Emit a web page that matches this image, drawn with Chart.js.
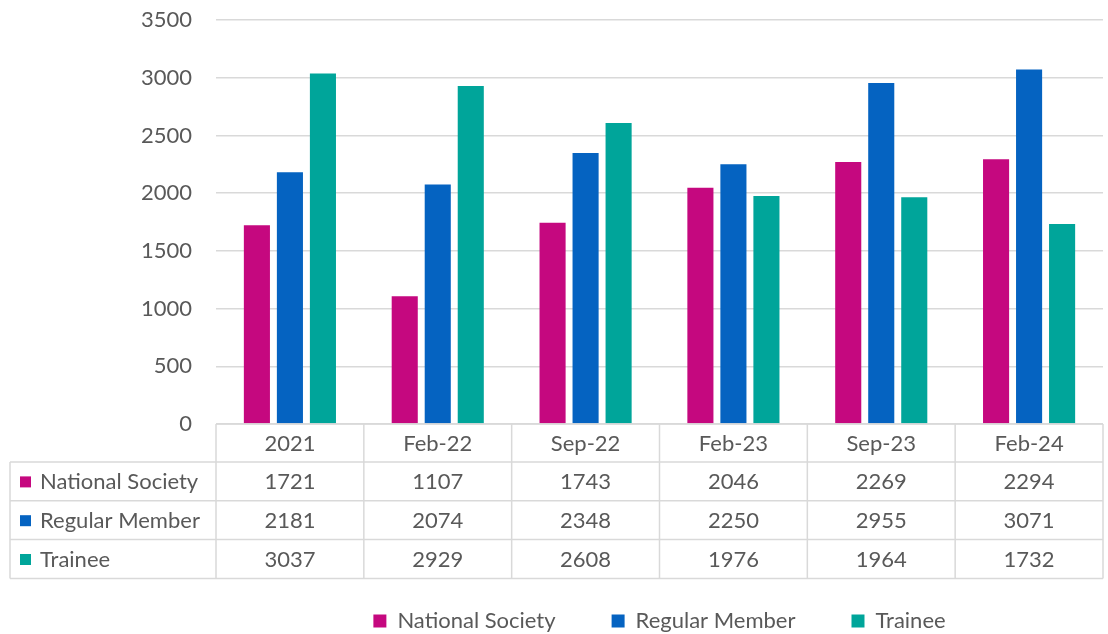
<!DOCTYPE html>
<html>
<head>
<meta charset="utf-8">
<script src="https://cdn.jsdelivr.net/npm/chart.js@4.4.1/dist/chart.umd.min.js"></script>
<style>
  html, body { margin: 0; padding: 0; background: #ffffff; }
  #wrap { width: 1108px; height: 634px; }
</style>
</head>
<body>
<div id="wrap"><canvas id="myChart"></canvas></div>
<script>
// Chart data
const categories = ['2021', 'Feb-22', 'Sep-22', 'Feb-23', 'Sep-23', 'Feb-24'];
const nationalSociety = [1721, 1107, 1743, 2046, 2269, 2294];
const regularMember = [2181, 2074, 2348, 2250, 2955, 3071];
const trainee = [3037, 2929, 2608, 1976, 1964, 1732];
const yTicks = [0, 500, 1000, 1500, 2000, 2500, 3000, 3500];

const textColor = '#595959';
const lineColor = '#d9d9d9';
const fontFamily = 'Lato';
const fontSize = 22;

// draws the data table under the bars
const dataTable = {
    id: 'dataTable',
    afterDraw(chart) {
        const ctx = chart.ctx;
        const x = chart.scales.x;
        const area = chart.chartArea;
        const n = categories.length;
        const colW = (x.right - x.left) / n;
        const top = area.bottom;
        const headH = 38;
        const rowH = 38.8;
        const tableLeft = 10;
        const bottom = top + headH + rowH * 3;

        ctx.save();
        ctx.strokeStyle = lineColor;
        ctx.lineWidth = 1.5;
        ctx.beginPath();
        // top of header
        ctx.moveTo(x.left, top); ctx.lineTo(x.right, top);
        // row lines
        for (let r = 0; r <= 3; r++) {
            const yy = top + headH + r * rowH;
            ctx.moveTo(tableLeft, yy); ctx.lineTo(x.right, yy);
        }
        // vertical lines
        for (let c = 0; c <= n; c++) {
            const xx = x.left + c * colW;
            ctx.moveTo(xx, top); ctx.lineTo(xx, bottom);
        }
        ctx.moveTo(tableLeft, top + headH); ctx.lineTo(tableLeft, bottom);
        ctx.stroke();

        ctx.fillStyle = textColor;
        ctx.font = fontSize + 'px ' + fontFamily;
        ctx.textAlign = 'center';
        ctx.textBaseline = 'middle';
        categories.forEach(function(cat, i) {
            ctx.fillText(cat, x.getPixelForValue(i), top + headH / 2 + 1);
        });

        chart.data.datasets.forEach(function(ds, r) {
            const yy = top + headH + r * rowH + rowH / 2 + 1;
            ctx.fillStyle = ds.backgroundColor;
            ctx.fillRect(tableLeft + 10, yy - 6, 11, 11);
            ctx.fillStyle = textColor;
            ctx.textAlign = 'left';
            ctx.fillText(ds.label, tableLeft + 30, yy);
            ctx.textAlign = 'center';
            ds.data.forEach(function(v, i) {
                ctx.fillText(String(v), x.getPixelForValue(i), yy);
            });
        });
        ctx.restore();
    }
};

const data = {
    labels: categories,
    datasets: [
        { label: 'National Society', data: nationalSociety, backgroundColor: '#c5087f' },
        { label: 'Regular Member', data: regularMember, backgroundColor: '#0563c1' },
        { label: 'Trainee', data: trainee, backgroundColor: '#00a59a' }
    ]
};

const options = {
    responsive: true,
    maintainAspectRatio: false,
    animation: false,
    layout: { padding: { top: 20, right: 5, left: 0, bottom: -8 } },
    datasets: {
        bar: { categoryPercentage: 0.67, barPercentage: 0.79 }
    },
    scales: {
        x: {
            grid: { display: false },
            border: { display: false },
            ticks: { display: false },
            afterFit: function(scale) { scale.height = 130; }
        },
        y: {
            min: 0,
            max: 3500,
            afterBuildTicks: function(scale) {
                scale.ticks = yTicks.map(function(v) { return { value: v }; });
            },
            afterFit: function(scale) {
                scale.width = 216;
                scale.paddingTop = 12;
                scale.paddingBottom = 0;
            },
            grid: { color: lineColor, lineWidth: 1.5, drawTicks: false },
            border: { display: false },
            ticks: {
                padding: 24,
                color: textColor,
                font: { family: fontFamily, size: fontSize },
                callback: function(value) { return String(value); }
            }
        }
    },
    plugins: {
        tooltip: { enabled: false },
        legend: {
            position: 'bottom',
            fullSize: false,
            labels: {
                color: textColor,
                boxWidth: 13,
                boxHeight: 13,
                padding: 56,
                font: { family: fontFamily, size: fontSize }
            }
        }
    }
};

new Chart(document.getElementById('myChart').getContext('2d'), {
    type: 'bar',
    data: data,
    options: options,
    plugins: [dataTable]
});
</script>
</body>
</html>
